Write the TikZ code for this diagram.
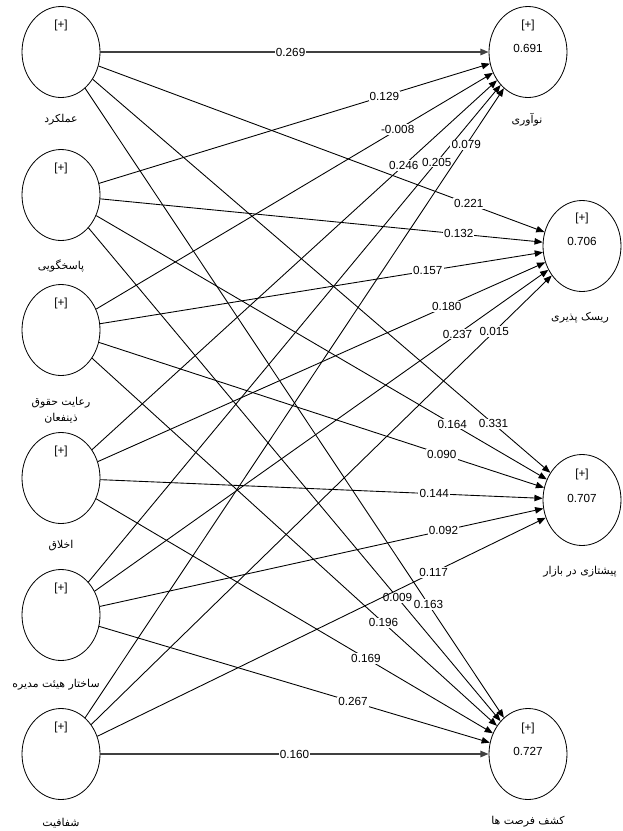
\documentclass[tikz,border=0pt]{standalone}
\usepackage{fontspec}
\setmainfont{Liberation Sans}
\newfontfamily\fafont[Script=Arabic]{DejaVu Sans}
\TeXXeTstate=1
\usetikzlibrary{arrows.meta,shapes.geometric}

\begin{document}
\begin{tikzpicture}[x=0.03cm, y=-0.03cm,
    construct/.style={draw, ellipse, minimum width=2.34cm, minimum height=2.73cm, line width=0.7pt},
    cname/.style={font=\fafont\fontsize{9.3}{13.5}\selectfont, align=center},
    val/.style={font=\fontsize{10}{11}\selectfont, inner sep=0pt},
    coef/.style={fill=white, inner sep=1pt, font=\fontsize{10}{11}\selectfont},
    arr/.style={-{Triangle[length=7pt,width=5.5pt]}, line width=0.75pt},
    flat/.style={line width=1.2pt, draw=black!75}
]
\useasboundingbox (0,0) rectangle (623,831);

% exogenous constructs
\node[construct] (s1) at (61,52) {};
\node[construct] (s2) at (61,195) {};
\node[construct] (s3) at (61,330) {};
\node[construct] (s4) at (61,478) {};
\node[construct] (s5) at (61,615) {};
\node[construct] (s6) at (61,754) {};
% endogenous constructs
\node[construct] (t1) at (528,52) {};
\node[construct] (t2) at (582,246) {};
\node[construct] (t3) at (582,500) {};
\node[construct] (t4) at (528,754) {};

\node[val] (p1) at (61,25) {[+]};
\node[val] (p2) at (61,168) {[+]};
\node[val] (p3) at (61,303) {[+]};
\node[val] (p4) at (61,451) {[+]};
\node[val] (p5) at (61,588) {[+]};
\node[val] (p6) at (61,727) {[+]};
\node[val] (q1) at (528,25) {[+]};
\node[val] (q2) at (582,218) {[+]};
\node[val] (q3) at (582,474) {[+]};
\node[val] (q4) at (528,728) {[+]};
\node[val] (r1) at (528,48) {0.691};
\node[val] (r2) at (582,241) {0.706};
\node[val] (r3) at (582,498) {0.707};
\node[val] (r4) at (528,751) {0.727};

\node[cname] (n1) at (61,120) {\beginR عملکرد\endR};
\node[cname] (n2) at (61,266) {\beginR پاسخگویی\endR};
\node[cname] (n3) at (61,410) {\beginR رعایت حقوق\endR\\\beginR ذینفعان\endR};
\node[cname] (n4) at (61,546) {\beginR اخلاق\endR};
\node[cname] (n5) at (56,685) {\beginR ساختار هیئت مدیره\endR};
\node[cname] (n6) at (61,823) {\beginR شفافیت\endR};
\node[cname] (m1) at (527,120) {\beginR نوآوری\endR};
\node[cname] (m2) at (580,318) {\beginR ریسک پذیری\endR};
\node[cname] (m3) at (580,572) {\beginR پیشتازی در بازار\endR};
\node[cname] (m4) at (528,822) {\beginR کشف فرصت ها\endR};

% paths
\draw[arr, flat] (s1) -- node[coef, pos=0.49] (c11) {0.269} (t1);
\draw[arr] (s1) -- node[coef, pos=0.83] (c12) {0.221} (t2);
\draw[arr] (s1) -- node[coef, pos=0.876] (c13) {0.331} (t3);
\draw[arr] (s1) -- node[coef, pos=0.82] (c14) {0.163} (t4);
\draw[arr] (s2) -- node[coef, pos=0.73] (c21) {0.129} (t1);
\draw[arr] (s2) -- node[coef, pos=0.81] (c22) {0.132} (t2);
\draw[arr] (s2) -- node[coef, pos=0.79] (c23) {0.164} (t3);
\draw[arr] (s2) -- node[coef, pos=0.75] (c24) {0.009} (t4);
\draw[arr] (s3) -- node[coef, pos=0.76] (c31) {-0.008} (t1);
\draw[arr] (s3) -- node[coef, pos=0.74] (c32) {0.157} (t2);
\draw[arr] (s3) -- node[coef, pos=0.77] (c33) {0.090} (t3);
\draw[arr] (s3) -- node[coef, pos=0.72] (c34) {0.196} (t4);
\draw[arr] (s4) -- node[coef, pos=0.77] (c41) {0.246} (t1);
\draw[arr] (s4) -- node[coef, pos=0.78] (c42) {0.180} (t2);
\draw[arr] (s4) -- node[coef, pos=0.755] (c43) {0.144} (t3);
\draw[arr] (s4) -- node[coef, pos=0.68] (c44) {0.169} (t4);
\draw[arr] (s5) -- node[coef, pos=0.845] (c51) {0.205} (t1);
\draw[arr] (s5) -- node[coef, pos=0.80] (c52) {0.237} (t2);
\draw[arr] (s5) -- node[coef, pos=0.775] (c53) {0.092} (t3);
\draw[arr] (s5) -- node[coef, pos=0.65] (c54) {0.267} (t4);
\draw[arr] (s6) -- node[coef, pos=0.91] (c61) {0.079} (t1);
\draw[arr] (s6) -- node[coef, pos=0.875] (c62) {0.015} (t2);
\draw[arr] (s6) -- node[coef, pos=0.75] (c63) {0.117} (t3);
\draw[arr, flat] (s6) -- node[coef, pos=0.50] (c64) {0.160} (t4);
\end{tikzpicture}
\end{document}
